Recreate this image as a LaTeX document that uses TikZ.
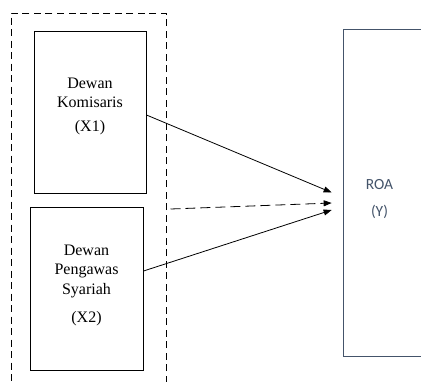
\documentclass[tikz,border=0pt]{standalone}
\usepackage{fontspec}
\setmainfont{Liberation Serif}
\newfontfamily\roafont{Carlito}
\usetikzlibrary{arrows.meta}
\definecolor{roablue}{RGB}{68,84,106}

\begin{document}
\begin{tikzpicture}[x=1pt, y=-1pt,
    varbox/.style={draw, line width=1pt, minimum width=112pt, minimum height=162pt, inner sep=0pt},
    vartext/.style={align=center, font=\fontsize{16}{19.5}\selectfont},
    link/.style={line width=0.8pt, -{Triangle[length=8pt,width=6pt]}}]
    \useasboundingbox (0,0) rectangle (421,381);
    \clip (0,0) rectangle (421,381);
    % Draw dashed frame around X1 and X2
    \node[draw, line width=1pt, dash pattern=on 7pt off 4.5pt, minimum width=155pt, minimum height=387pt, inner sep=0pt] (grp) at (88.5,206.5) {};
    % Draw variable boxes
    \node[varbox] (x1) at (90,112) {};
    \node[varbox, minimum width=113pt, minimum height=163pt] (x2) at (86.5,288.5) {};
    \node[vartext] (x1txt) at (90,106) {Dewan\\Komisaris\\[4pt](X1)};
    \node[vartext] (x2txt) at (86.5,285.5) {Dewan\\Pengawas\\Syariah\\[9pt](X2)};
    % Draw ROA box
    \node[draw=roablue, line width=0.7pt, minimum width=87pt, minimum height=327pt, inner sep=0pt] (roa) at (386.5,192.5) {};
    \node[align=center, text=roablue, font=\roafont\fontsize{15.5}{27}\selectfont] (roatxt) at (379.5,199) {ROA\\(Y)};
    % Arrow ends
    \coordinate (t1) at ([xshift=-11pt]roa.west);
    \coordinate (t2) at ([xshift=-11pt, yshift=-10.5pt]roa.west);
    \coordinate (t3) at ([xshift=-11pt, yshift=-17.5pt]roa.west);
    % Draw arrows
    \draw[link] ([yshift=-3pt]x1.east) -- (t1);
    \draw[link, dash pattern=on 10pt off 5pt] ([xshift=4pt, yshift=-2.5pt]grp.east) -- (t2);
    \draw[link] ([yshift=17.5pt]x2.east) -- (t3);
\end{tikzpicture}
\end{document}
